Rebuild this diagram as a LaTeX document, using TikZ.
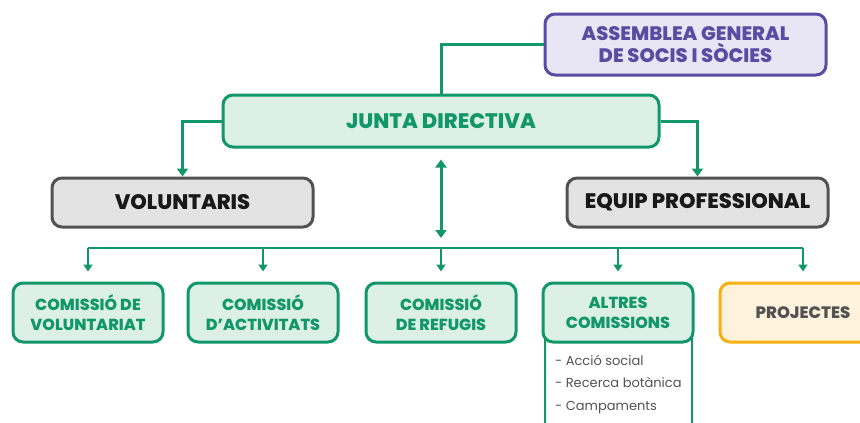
\documentclass[tikz,border=0pt]{standalone}
\usepackage{fontspec}
\setmainfont{Poppins}[BoldFont={* ExtraBold}]
\usetikzlibrary{positioning}
\usetikzlibrary{arrows.meta}
\definecolor{verd}{HTML}{12976B}
\definecolor{verdclar}{HTML}{DDF0E8}
\definecolor{lila}{HTML}{5A4BA3}
\definecolor{lilaclar}{HTML}{E8E5F4}
\definecolor{gris}{HTML}{525252}
\definecolor{grisclar}{HTML}{E3E3E3}
\definecolor{taronja}{HTML}{F7B012}
\definecolor{taronjaclar}{HTML}{FFF2DC}
\begin{document}
\begin{tikzpicture}[x=1pt, y=-1pt,
    caixa/.style={draw, rounded corners=10pt, line width=3pt, align=center, inner sep=0pt, font=\bfseries},
    org/.style={caixa, draw=lila, fill=lilaclar, text=lila, minimum width=281pt, minimum height=61pt, font=\fontsize{19.5}{22}\selectfont\bfseries},
    junta/.style={caixa, draw=verd, fill=verdclar, text=verd, minimum width=436pt, minimum height=52pt, font=\fontsize{21}{22}\selectfont\bfseries},
    area/.style={caixa, draw=gris, fill=grisclar, text=black!90, minimum width=261pt, minimum height=49pt, font=\fontsize{21}{22}\selectfont\bfseries},
    comissio/.style={caixa, draw=verd, fill=verdclar, text=verd, minimum width=150pt, minimum height=59pt, font=\fontsize{16}{20}\selectfont\bfseries},
    projecte/.style={caixa, draw=taronja, fill=taronjaclar, text=gris, minimum width=166pt, minimum height=59pt, font=\fontsize{16.5}{20}\selectfont\bfseries},
    fletxa/.style={verd, line width=3pt, -{Triangle[width=11pt,length=8pt]}},
    branca/.style={verd, line width=2pt, -{Triangle[width=9pt,length=7pt]}}]
  \useasboundingbox (0,0) rectangle (860,423);

  \node[org] (assemblea) at (685.5,44.5) {ASSEMBLEA GENERAL\\DE SOCIS I SÒCIES};
  \node[junta] (junta) at (441,121) {JUNTA DIRECTIVA};
  \node[area] (volunt) at (182.5,202.5) {VOLUNTARIS};
  \node[area] (equip) at (697.5,202.5) {EQUIP PROFESSIONAL};

  \coordinate (bus) at (441,248);

  % llista sota altres comissions
  \node[draw=verd, line width=2pt, rounded corners=10pt, anchor=north, minimum width=147pt, minimum height=130pt,
        inner sep=0pt] (llista) at (618.5,320) {};
  \node[anchor=west, align=left, inner sep=0pt, text=gris, font=\fontsize{13}{22.5}\selectfont] (items) at (555,384.5)
        {- Acció social\\- Recerca botànica\\- Campaments};

  \node[comissio] (c1) at (88,312.5) {COMISSIÓ DE\\VOLUNTARIAT};
  \node[comissio, right = 22pt of c1] (c2) {COMISSIÓ\\D’ACTIVITATS};
  \node[comissio, right = 25pt of c2] (c3) {COMISSIÓ\\DE REFUGIS};
  \node[comissio, right = 24pt of c3] (c4) {ALTRES\\COMISSIONS};
  \node[projecte, right = 24pt of c4] (c5) {PROJECTES};

  \draw[verd, line width=3pt] (assemblea.west) -| (junta.north);
  \draw[fletxa] (junta.west) -| (volunt.north);
  \draw[fletxa] (junta.east) -| (equip.north);
  \draw[verd, line width=3pt, {Triangle[width=11pt,length=8pt]}-{Triangle[width=11pt,length=8pt]}]
    ([yshift=-11pt]junta.south) -- ([yshift=10pt]bus);

  \draw[verd, line width=2pt] (c1.north |- bus) -- (c5.north |- bus);
  \foreach \c in {c1,c2,c3,c4,c5}
    \draw[branca, shorten >=10pt] (\c.north |- bus) -- (\c.north);
\end{tikzpicture}
\end{document}
